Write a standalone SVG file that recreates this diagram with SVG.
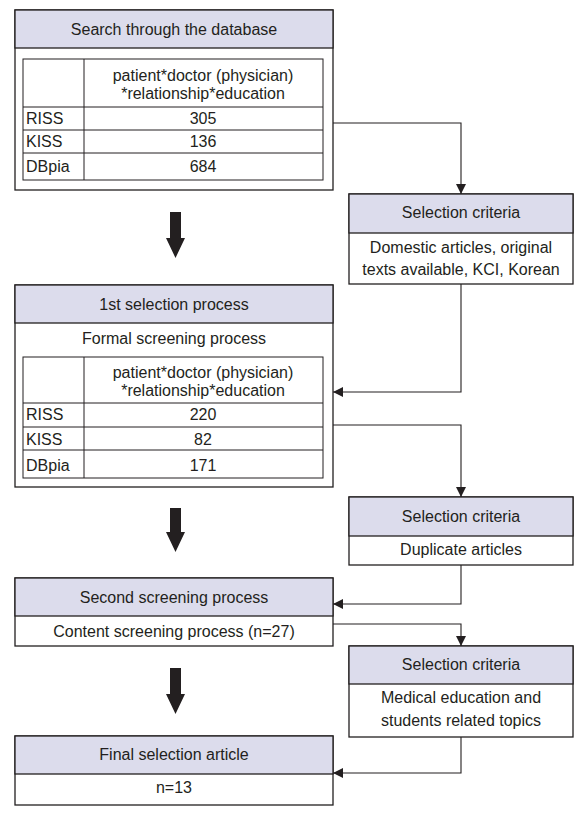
<svg xmlns="http://www.w3.org/2000/svg" width="582" height="818" viewBox="0 0 582 818">
<style>
text{font-family:"Liberation Sans",Arial,sans-serif;font-size:16px;fill:#231f20;text-anchor:middle}
text.l{text-anchor:start}
.box{fill:#fff;stroke:#231f20;stroke-width:1.3}
.hd{fill:#dcdcec;stroke:#231f20;stroke-width:1.3}
.tb{fill:none;stroke:#231f20;stroke-width:1}
.con{fill:none;stroke:#231f20;stroke-width:1.1}
.big{fill:#231f20}
</style>
<defs>
<marker id="ah" markerUnits="userSpaceOnUse" markerWidth="10" markerHeight="10" viewBox="0 0 10 10" refX="10" refY="5" orient="auto">
<path d="M0,0 L10,5 L0,10 Z" fill="#231f20"/>
</marker>
</defs>

<g id="search">
<rect class="box" x="15" y="10" width="318" height="180"/>
<rect class="hd" x="15" y="10" width="318" height="38"/>
<text x="174" y="35">Search through the database</text>
<rect class="tb" x="23" y="59" width="300" height="121"/>
<line class="tb" x1="84" y1="59" x2="84" y2="180"/>
<line class="tb" x1="23" y1="107" x2="323" y2="107"/>
<line class="tb" x1="23" y1="130" x2="323" y2="130"/>
<line class="tb" x1="23" y1="153" x2="323" y2="153"/>
<text x="203" y="81">patient*doctor (physician)</text>
<text x="203" y="99">*relationship*education</text>
<text class="l" x="26" y="124">RISS</text>
<text x="203" y="124">305</text>
<text class="l" x="26" y="147">KISS</text>
<text x="203" y="147">136</text>
<text class="l" x="26" y="172">DBpia</text>
<text x="203" y="172">684</text>
</g>

<g id="crit1">
<rect class="box" x="349" y="194" width="224" height="90"/>
<rect class="hd" x="349" y="194" width="224" height="39"/>
<text x="461" y="218">Selection criteria</text>
<text x="461" y="253">Domestic articles, original</text>
<text x="461" y="275">texts available, KCI, Korean</text>
</g>

<g id="first">
<rect class="box" x="15" y="285" width="318" height="202"/>
<rect class="hd" x="15" y="285" width="318" height="38"/>
<text x="174" y="310">1st selection process</text>
<text x="174" y="344">Formal screening process</text>
<rect class="tb" x="23" y="357" width="300" height="121"/>
<line class="tb" x1="84" y1="357" x2="84" y2="478"/>
<line class="tb" x1="23" y1="403" x2="323" y2="403"/>
<line class="tb" x1="23" y1="427" x2="323" y2="427"/>
<line class="tb" x1="23" y1="450" x2="323" y2="450"/>
<text x="203" y="378">patient*doctor (physician)</text>
<text x="203" y="396">*relationship*education</text>
<text class="l" x="26" y="420">RISS</text>
<text x="203" y="420">220</text>
<text class="l" x="26" y="445">KISS</text>
<text x="203" y="445">82</text>
<text class="l" x="26" y="471">DBpia</text>
<text x="203" y="471">171</text>
</g>

<g id="crit2">
<rect class="box" x="349" y="497" width="224" height="68"/>
<rect class="hd" x="349" y="497" width="224" height="39"/>
<text x="461" y="522">Selection criteria</text>
<text x="461" y="555">Duplicate articles</text>
</g>

<g id="second">
<rect class="box" x="15" y="578" width="318" height="68"/>
<rect class="hd" x="15" y="578" width="318" height="38"/>
<text x="174" y="603">Second screening process</text>
<text x="174" y="637">Content screening process (n=27)</text>
</g>

<g id="crit3">
<rect class="box" x="349" y="646" width="224" height="91"/>
<rect class="hd" x="349" y="646" width="224" height="38"/>
<text x="461" y="670">Selection criteria</text>
<text x="461" y="703">Medical education and</text>
<text x="461" y="726">students related topics</text>
</g>

<g id="final">
<rect class="box" x="15" y="736" width="318" height="69"/>
<rect class="hd" x="15" y="736" width="318" height="38"/>
<text x="174" y="760">Final selection article</text>
<text x="174" y="793">n=13</text>
</g>

<g id="connectors">
<polyline class="con" points="333,123 461,123 461,194" marker-end="url(#ah)"/>
<polyline class="con" points="461,284 461,392 333,392" marker-end="url(#ah)"/>
<polyline class="con" points="333,425 461,425 461,497" marker-end="url(#ah)"/>
<polyline class="con" points="461,565 461,604 333,604" marker-end="url(#ah)"/>
<polyline class="con" points="333,624 461,624 461,646" marker-end="url(#ah)"/>
<polyline class="con" points="461,737 461,773 333,773" marker-end="url(#ah)"/>
<path class="big" d="M170,212 H181 V238 H185 L175.5,258 L166,238 H170 Z"/>
<path class="big" d="M170,508 H181 V532 H185 L175.5,552 L166,532 H170 Z"/>
<path class="big" d="M170,668 H181 V694 H185 L175.5,714 L166,694 H170 Z"/>
</g>
</svg>
